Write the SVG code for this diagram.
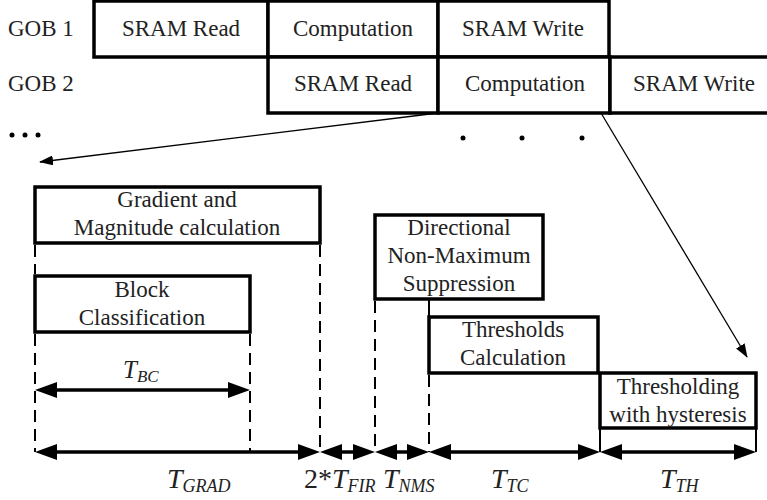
<svg xmlns="http://www.w3.org/2000/svg" width="767" height="500" viewBox="0 0 767 500">
<style>
.box{fill:#fff;stroke:#000;stroke-width:3.5}
.t{font-family:"Liberation Serif","Times New Roman",serif;font-size:23px;fill:#222;text-anchor:middle}
.tl{font-family:"Liberation Serif","Times New Roman",serif;font-size:23px;fill:#222}
.ti{font-family:"Liberation Serif","Times New Roman",serif;font-style:italic;fill:#222}
.dash{stroke:#000;stroke-width:2;stroke-dasharray:12,7;fill:none}
.solid{stroke:#000;stroke-width:2;fill:none}
.dim{stroke:#000;stroke-width:3.5;fill:none;marker-start:url(#big);marker-end:url(#big)}
.thin{stroke:#000;stroke-width:1.3;fill:none;marker-end:url(#small)}
</style>
<defs>
<marker id="big" viewBox="0 0 22 16" refX="12" refY="8" markerWidth="22" markerHeight="16" markerUnits="userSpaceOnUse" orient="auto-start-reverse"><path d="M0,0 L22,8 L0,16 z" fill="#000"/></marker>
<marker id="small" viewBox="0 0 14 10" refX="13" refY="5" markerWidth="14" markerHeight="10" markerUnits="userSpaceOnUse" orient="auto"><path d="M0,0 L14,5 L0,10 z" fill="#000"/></marker>
</defs>
<rect width="767" height="500" fill="#fff"/>

<g id="gob1">
<text class="tl" x="8" y="36">GOB 1</text>
<rect class="box" x="94" y="1" width="174" height="56"/>
<text class="t" x="181" y="36">SRAM Read</text>
<rect class="box" x="268" y="1" width="170" height="56"/>
<text class="t" x="353" y="36">Computation</text>
<rect class="box" x="438" y="1" width="171" height="56"/>
<text class="t" x="523" y="36">SRAM Write</text>
</g>

<g id="gob2">
<text class="tl" x="8" y="91">GOB 2</text>
<rect class="box" x="268" y="57" width="170" height="56"/>
<text class="t" x="353" y="91">SRAM Read</text>
<rect class="box" x="438" y="57" width="172" height="56"/>
<text class="t" x="525" y="91">Computation</text>
<rect class="box" x="610" y="57" width="170" height="56"/>
<text class="t" x="694" y="91">SRAM Write</text>
</g>

<g id="ellipsis">
<circle cx="12" cy="135" r="2.5"/><circle cx="25" cy="135" r="2.5"/><circle cx="38" cy="135" r="2.5"/>
<circle cx="463" cy="138" r="2.5"/><circle cx="522" cy="138" r="2.5"/><circle cx="582" cy="138" r="2.5"/>
</g>

<g id="grad">
<rect class="box" x="35" y="187" width="285" height="56"/>
<text class="t" x="177" y="207">Gradient and</text>
<text class="t" x="177" y="235">Magnitude calculation</text>
</g>

<g id="block">
<rect class="box" x="35" y="276" width="215" height="56"/>
<text class="t" x="142" y="297">Block</text>
<text class="t" x="142" y="325">Classification</text>
</g>

<g id="nms">
<rect class="box" x="375" y="215" width="168" height="84"/>
<text class="t" x="459" y="235">Directional</text>
<text class="t" x="459" y="263">Non-Maximum</text>
<text class="t" x="459" y="291">Suppression</text>
</g>

<g id="tc">
<rect class="box" x="429" y="317" width="169" height="56"/>
<text class="t" x="513" y="337">Thresholds</text>
<text class="t" x="513" y="365">Calculation</text>
</g>

<g id="th">
<rect class="box" x="600" y="373" width="156" height="55"/>
<text class="t" x="678" y="394">Thresholding</text>
<text class="t" x="678" y="422">with hysteresis</text>
</g>

<g id="connectors">
<line class="thin" x1="438" y1="113" x2="40" y2="162"/>
<line class="thin" x1="601" y1="113" x2="747" y2="357"/>
<line class="dash" x1="35" y1="245" x2="35" y2="274"/>
<line class="dash" x1="35" y1="334" x2="35" y2="452"/>
<line class="dash" x1="250" y1="334" x2="250" y2="452"/>
<line class="dash" x1="320" y1="245" x2="320" y2="452"/>
<line class="dash" x1="375" y1="301" x2="375" y2="452"/>
<line class="solid" x1="429" y1="299" x2="429" y2="317"/>
<line class="dash" x1="429" y1="375" x2="429" y2="452"/>
<line class="solid" x1="600" y1="428" x2="600" y2="452"/>
<line class="solid" x1="756" y1="428" x2="756" y2="452"/>
<line class="dim" x1="45" y1="390" x2="240" y2="390"/>
<line class="dim" x1="45" y1="452" x2="310" y2="452"/>
<line class="dim" x1="330" y1="452" x2="365" y2="452"/>
<line class="dim" x1="385" y1="452" x2="419" y2="452"/>
<line class="dim" x1="439" y1="452" x2="590" y2="452"/>
<line class="dim" x1="610" y1="452" x2="746" y2="452"/>
</g>

<g id="labels">
<text class="ti" x="123" y="378" font-size="25">T<tspan font-size="17" dy="4">BC</tspan></text>
<text class="ti" x="167" y="488" font-size="28">T<tspan font-size="18" dy="4">GRAD</tspan></text>
<text class="ti" x="304" y="488" font-size="28"><tspan font-style="normal">2*</tspan>T<tspan font-size="18" dy="4">FIR</tspan></text>
<text class="ti" x="383" y="488" font-size="28">T<tspan font-size="18" dy="4">NMS</tspan></text>
<text class="ti" x="491" y="488" font-size="28">T<tspan font-size="18" dy="4">TC</tspan></text>
<text class="ti" x="660" y="488" font-size="28">T<tspan font-size="18" dy="4">TH</tspan></text>
</g>
</svg>
